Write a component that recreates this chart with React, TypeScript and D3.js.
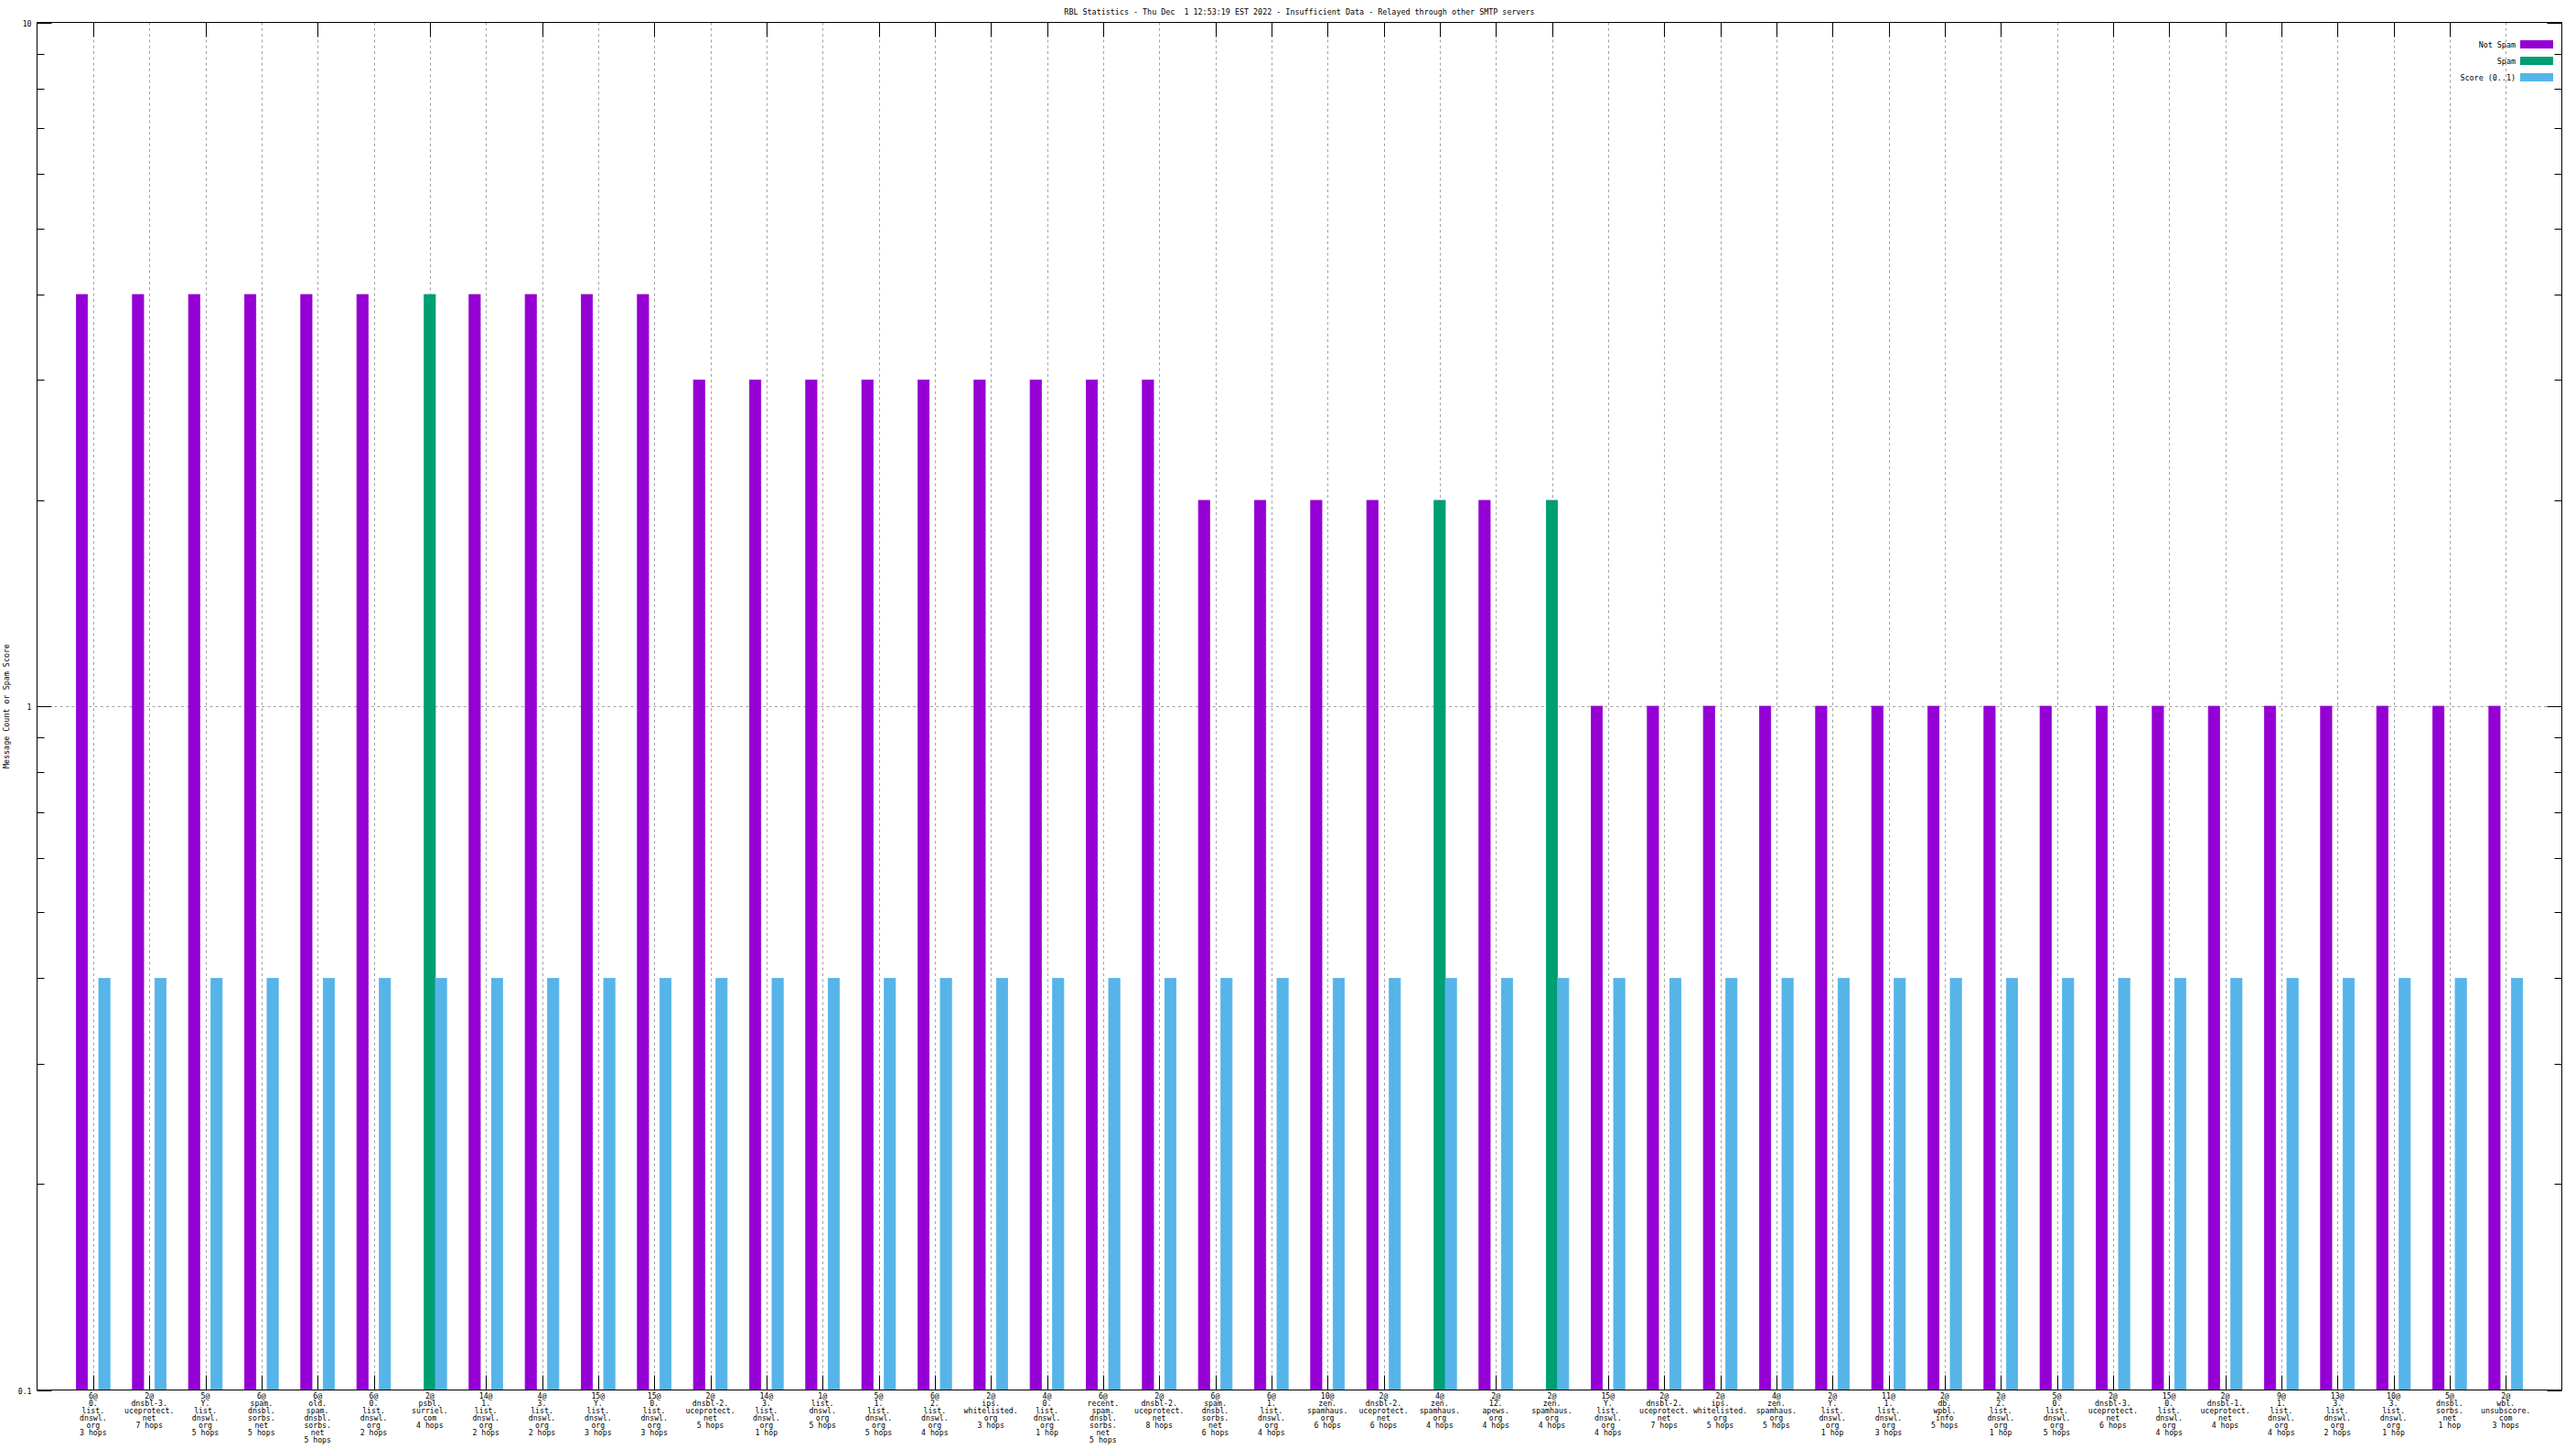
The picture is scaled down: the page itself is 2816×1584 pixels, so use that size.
import React from "react";
import * as d3 from "d3";

const categories: string[] = [
  "6@\n0.\nlist.\ndnswl.\norg\n3 hops",
  "2@\ndnsbl-3.\nuceprotect.\nnet\n7 hops",
  "5@\nY.\nlist.\ndnswl.\norg\n5 hops",
  "6@\nspam.\ndnsbl.\nsorbs.\nnet\n5 hops",
  "6@\nold.\nspam.\ndnsbl.\nsorbs.\nnet\n5 hops",
  "6@\n0.\nlist.\ndnswl.\norg\n2 hops",
  "2@\npsbl.\nsurriel.\ncom\n4 hops",
  "14@\n1.\nlist.\ndnswl.\norg\n2 hops",
  "4@\n3.\nlist.\ndnswl.\norg\n2 hops",
  "15@\nY.\nlist.\ndnswl.\norg\n3 hops",
  "15@\n0.\nlist.\ndnswl.\norg\n3 hops",
  "2@\ndnsbl-2.\nuceprotect.\nnet\n5 hops",
  "14@\n3.\nlist.\ndnswl.\norg\n1 hop",
  "1@\nlist.\ndnswl.\norg\n5 hops",
  "5@\n1.\nlist.\ndnswl.\norg\n5 hops",
  "6@\n2.\nlist.\ndnswl.\norg\n4 hops",
  "2@\nips.\nwhitelisted.\norg\n3 hops",
  "4@\n0.\nlist.\ndnswl.\norg\n1 hop",
  "6@\nrecent.\nspam.\ndnsbl.\nsorbs.\nnet\n5 hops",
  "2@\ndnsbl-2.\nuceprotect.\nnet\n8 hops",
  "6@\nspam.\ndnsbl.\nsorbs.\nnet\n6 hops",
  "6@\n1.\nlist.\ndnswl.\norg\n4 hops",
  "10@\nzen.\nspamhaus.\norg\n6 hops",
  "2@\ndnsbl-2.\nuceprotect.\nnet\n6 hops",
  "4@\nzen.\nspamhaus.\norg\n4 hops",
  "2@\n12.\napews.\norg\n4 hops",
  "2@\nzen.\nspamhaus.\norg\n4 hops",
  "15@\nY.\nlist.\ndnswl.\norg\n4 hops",
  "2@\ndnsbl-2.\nuceprotect.\nnet\n7 hops",
  "2@\nips.\nwhitelisted.\norg\n5 hops",
  "4@\nzen.\nspamhaus.\norg\n5 hops",
  "2@\nY.\nlist.\ndnswl.\norg\n1 hop",
  "11@\n1.\nlist.\ndnswl.\norg\n3 hops",
  "2@\ndb.\nwpbl.\ninfo\n5 hops",
  "2@\n2.\nlist.\ndnswl.\norg\n1 hop",
  "5@\n0.\nlist.\ndnswl.\norg\n5 hops",
  "2@\ndnsbl-3.\nuceprotect.\nnet\n6 hops",
  "15@\n0.\nlist.\ndnswl.\norg\n4 hops",
  "2@\ndnsbl-1.\nuceprotect.\nnet\n4 hops",
  "9@\n1.\nlist.\ndnswl.\norg\n4 hops",
  "13@\n3.\nlist.\ndnswl.\norg\n2 hops",
  "10@\n3.\nlist.\ndnswl.\norg\n1 hop",
  "5@\ndnsbl.\nsorbs.\nnet\n1 hop",
  "2@\nwbl.\nunsubscore.\ncom\n3 hops",
];

const notSpam: number[] = [
  4, 4, 4, 4, 4, 4, 0, 4, 4, 4, 4,
  3, 3, 3, 3, 3, 3, 3, 3, 3,
  2, 2, 2, 2, 0, 2, 0,
  1, 1, 1, 1, 1, 1, 1, 1, 1, 1, 1, 1, 1, 1, 1, 1, 1,
];

const spam: number[] = [
  0, 0, 0, 0, 0, 0, 4, 0, 0, 0, 0,
  0, 0, 0, 0, 0, 0, 0, 0, 0,
  0, 0, 0, 0, 2, 0, 2,
  0, 0, 0, 0, 0, 0, 0, 0, 0, 0, 0, 0, 0, 0, 0, 0, 0,
];

const score: number[] = categories.map(() => 0.4);

const seriesNames: string[] = ["Not Spam", "Spam", "Score (0..1)"];
const seriesColors: string[] = ["#9400d3", "#009e73", "#56b4e9"];

const yMajorTicks: number[] = [0.1, 1, 10];
const yTickLabels: string[] = ["0.1", "1", "10"];

const topTickSkip: number[] = [1, 3, 5, 7, 9, 11, 13, 19, 27, 35, 43];

const title =
  "RBL Statistics - Thu Dec  1 12:53:19 EST 2022 - Insufficient Data - Relayed through other SMTP servers";
const yLabel = "Message Count or Spam Score";

const W = 2816;
const H = 1584;
const FONT = "'DejaVu Sans Mono', 'Liberation Mono', monospace";

export default function App() {
  const left = 40.5;
  const right = 2800.5;
  const top = 24.5;
  const bottom = 1519.5;
  const n = categories.length;

  const x = d3.scaleLinear().domain([-1, n]).range([left, right]);
  const y = d3.scaleLog().domain([0.1, 10]).range([bottom, top]);
  const step = x(1) - x(0);
  const bw = step * 0.2;

  const minorTicks: number[] = [];
  for (const dec of [0.1, 1]) {
    for (let k = 2; k <= 9; k++) minorTicks.push(+(dec * k).toFixed(2));
  }

  const series = [notSpam, spam, score];
  const offsets = [-1, 0, 1];

  const grid = "#a0a0a0";

  return (
    <svg
      width={W}
      height={H}
      style={{ position: "absolute", left: 0, top: 0, background: "#fff" }}
      fontFamily={FONT}
    >
      <rect x={0} y={0} width={W} height={H} fill="#fff" />
      {/* title */}
      <text
        x={(left + right) / 2}
        y={15.5}
        fontSize={8.4}
        textAnchor="middle"
        fill="#000"
        style={{ whiteSpace: "pre" }}
      >
        {title}
      </text>
      {/* y label */}
      <text
        transform={`translate(10,${(top + bottom) / 2}) rotate(-90)`}
        fontSize={8.4}
        textAnchor="middle"
        fill="#000"
      >
        {yLabel}
      </text>

      {/* horizontal grid at major interior ticks */}
      {yMajorTicks
        .filter((v) => v > 0.1 && v < 10)
        .map((v) => (
          <line
            key={"hg" + v}
            x1={left}
            x2={right}
            y1={Math.round(y(v)) + 0.5}
            y2={Math.round(y(v)) + 0.5}
            stroke={grid}
            strokeDasharray="3,3.3"
          />
        ))}

      {/* vertical grid lines */}
      {categories.map((_, i) => {
        const xx = Math.round(x(i)) + 0.5;
        return (
          <line key={"vg" + i} x1={xx} x2={xx} y1={top} y2={bottom} stroke={grid} strokeDasharray="3,3.3" />
        );
      })}

      {/* x ticks bottom and top */}
      {categories.map((_, i) => {
        const xx = Math.round(x(i)) + 0.5;
        return (
          <g key={"xt" + i}>
            <line x1={xx} x2={xx} y1={bottom} y2={bottom - 16} stroke="#000" />
            {topTickSkip.indexOf(i) < 0 && (
              <line x1={xx} x2={xx} y1={top} y2={top + 16} stroke="#000" />
            )}
          </g>
        );
      })}

      {/* y ticks */}
      {yMajorTicks.map((v, i) => {
        const yy = Math.round(y(v)) + 0.5;
        return (
          <g key={"yt" + v}>
            <line x1={left} x2={left + 16} y1={yy} y2={yy} stroke="#000" />
            <line x1={right} x2={right - 16} y1={yy} y2={yy} stroke="#000" />
            <text x={34.5} y={yy + 3} fontSize={8.2} textAnchor="end" fill="#000">
              {yTickLabels[i]}
            </text>
          </g>
        );
      })}
      {minorTicks.map((v) => {
        const yy = Math.round(y(v)) + 0.5;
        return (
          <g key={"ym" + v}>
            <line x1={left} x2={left + 8} y1={yy} y2={yy} stroke="#000" />
            <line x1={right} x2={right - 8} y1={yy} y2={yy} stroke="#000" />
          </g>
        );
      })}

      {/* bars */}
      {series.map((vals, s) =>
        vals.map((v, i) => {
          if (!(v > 0)) return null;
          const cx = x(i) + offsets[s] * bw;
          const yt = y(v);
          return (
            <rect
              key={"b" + s + "-" + i}
              x={cx - bw / 2}
              y={yt}
              width={bw}
              height={bottom - yt}
              fill={seriesColors[s]}
              stroke={seriesColors[s]}
              strokeWidth={0.8}
            />
          );
        })
      )}

      {/* x tick labels */}
      {categories.map((c, i) => (
        <text key={"xl" + i} x={x(i)} y={1529} fontSize={8.2} textAnchor="middle" fill="#000">
          {c.split("\n").map((line, j) => (
            <tspan key={j} x={x(i)} dy={j === 0 ? 0 : 8}>
              {line}
            </tspan>
          ))}
        </text>
      ))}

      {/* border */}
      <rect x={left} y={top} width={right - left} height={bottom - top} fill="none" stroke="#000" strokeWidth={1} />

      {/* legend */}
      {seriesNames.map((name, s) => {
        const cy = 48.5 + s * 18;
        return (
          <g key={"lg" + s}>
            <text x={2750} y={cy + 3} fontSize={8.4} textAnchor="end" fill="#000" style={{ whiteSpace: "pre" }}>
              {name}
            </text>
            <rect x={2755} y={cy - 4.5} width={36} height={9} fill={seriesColors[s]} />
          </g>
        );
      })}
    </svg>
  );
}
